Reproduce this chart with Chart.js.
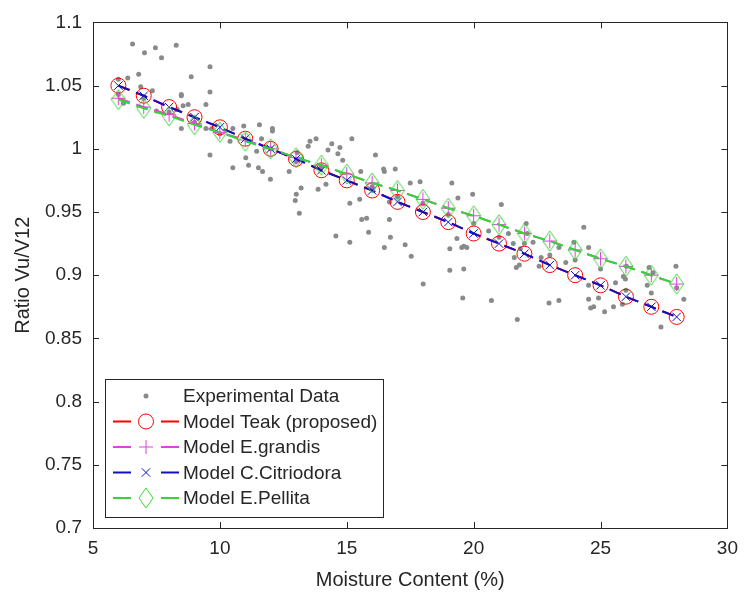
<!DOCTYPE html>
<html>
<head>
<meta charset="utf-8">
<script src="https://cdn.jsdelivr.net/npm/chart.js@4.4.0/dist/chart.umd.min.js"></script>
<style>
  html, body { margin: 0; padding: 0; background: #fff; }
</style>
</head>
<body>
<canvas id="ratioChart" width="747" height="594"></canvas>
<script>
// model curves, evaluated at whole moisture contents
const moisture = [6, 7, 8, 9, 10, 11, 12, 13, 14, 15, 16, 17, 18, 19, 20, 21, 22, 23, 24, 25, 26, 27, 28];
const teak = [1.050, 1.042, 1.033, 1.025, 1.017, 1.008, 1.000, 0.992, 0.983, 0.975, 0.967, 0.958,
              0.950, 0.942, 0.933, 0.925, 0.917, 0.908, 0.900, 0.892, 0.883, 0.875, 0.867];
const grandis = [1.040, 1.033, 1.027, 1.020, 1.013, 1.007, 1.000, 0.993, 0.987, 0.980, 0.973, 0.967,
                 0.960, 0.953, 0.947, 0.940, 0.933, 0.927, 0.920, 0.913, 0.907, 0.900, 0.893];
const citriodora = [1.050, 1.042, 1.033, 1.025, 1.017, 1.008, 1.000, 0.992, 0.983, 0.975, 0.967, 0.958,
                    0.950, 0.942, 0.933, 0.925, 0.917, 0.908, 0.900, 0.892, 0.883, 0.875, 0.867];
const pellita = [1.039, 1.032, 1.026, 1.019, 1.013, 1.006, 1.000, 0.993, 0.987, 0.980, 0.973, 0.967,
                 0.960, 0.953, 0.947, 0.940, 0.933, 0.927, 0.920, 0.913, 0.907, 0.900, 0.893];

// experimental points
const expMoisture = [6.56, 7.03, 7.46, 7.70, 8.28, 6.37, 6.80, 6.88, 7.34, 8.87, 9.61, 8.48, 8.48, 9.61, 8.75,
  9.45, 8.32, 8.55, 8.48, 9.45, 9.69, 9.61, 10.51, 10.51, 10.94, 11.56, 12.07, 12.07, 11.02, 11.13,
  11.45, 11.64, 11.52, 11.68, 11.99, 12.73, 13.05, 13.20, 13.01, 12.97, 13.13, 13.55, 13.79, 13.48, 14.26,
  14.41, 13.87, 14.18, 15.20, 14.73, 14.65, 14.84, 16.13, 16.45, 16.48, 16.91, 15.55, 17.50, 17.89, 19.14,
  15.12, 15.51, 16.68, 15.59, 15.78, 16.68, 15.86, 14.57, 15.12, 16.72, 16.48, 17.30, 17.54, 18.01, 19.38,
  19.96, 21.09, 22.07, 19.34, 19.53, 19.61, 19.73, 19.06, 19.06, 19.61, 19.57, 20.70, 21.72, 22.97, 23.36,
  22.58, 22.66, 23.36, 21.84, 21.68, 22.34, 22.11, 20.59, 21.37, 21.56, 21.60, 21.80, 24.34, 23.63, 24.53,
  24.53, 24.61, 24.73, 25.16, 24.92, 25.51, 25.86, 25.59, 25.98, 26.84, 27.38, 27.97, 28.28, 23.95, 26.91,
  26.02, 25.90, 27.07, 24.53, 6.0, 6.0, 6.2, 7.0, 7.5, 8.0, 9.0, 10.0, 10.4, 12.0, 13.0, 14.0, 16.0, 18.0,
  20.0, 21.0, 23.0, 25.0, 27.0, 28.0, 17.0, 19.0, 22.0, 24.0, 26.0];
const expRatio = [1.083, 1.076, 1.080, 1.072, 1.082, 1.056, 1.059, 1.049, 1.046, 1.057, 1.065, 1.043, 1.042, 1.045, 1.035,
  1.035, 1.031, 1.034, 1.016, 1.016, 1.016, 0.995, 0.985, 1.016, 1.018, 1.019, 1.016, 1.014, 0.993, 0.987,
  0.998, 1.008, 0.985, 0.982, 0.976, 0.982, 0.997, 0.969, 0.964, 0.959, 0.949, 1.006, 1.008, 1.002, 0.999,
  1.004, 0.968, 0.972, 1.008, 1.001, 0.996, 0.991, 0.995, 0.984, 0.982, 0.984, 0.982, 0.973, 0.974, 0.973,
  0.957, 0.960, 0.958, 0.944, 0.945, 0.944, 0.934, 0.931, 0.926, 0.930, 0.922, 0.924, 0.915, 0.893, 0.961,
  0.964, 0.956, 0.941, 0.929, 0.922, 0.923, 0.922, 0.921, 0.904, 0.905, 0.882, 0.880, 0.865, 0.878, 0.880,
  0.907, 0.914, 0.922, 0.921, 0.906, 0.926, 0.933, 0.935, 0.933, 0.925, 0.914, 0.908, 0.938, 0.910, 0.892,
  0.881, 0.874, 0.875, 0.871, 0.882, 0.875, 0.877, 0.894, 0.897, 0.892, 0.859, 0.907, 0.881, 0.926, 0.906,
  0.907, 0.899, 0.902, 0.922, 1.055, 1.043, 1.036, 1.040, 1.030, 1.029, 1.021, 1.012, 1.006, 1.000, 0.990, 0.986, 0.970, 0.957,
  0.941, 0.930, 0.916, 0.905, 0.886, 0.890, 0.962, 0.948, 0.925, 0.912, 0.888];

const xTicks = [5, 10, 15, 20, 25, 30];
const yTicks = [0.7, 0.75, 0.8, 0.85, 0.9, 0.95, 1, 1.05, 1.1];
const yTickLabels = ['0.7', '0.75', '0.8', '0.85', '0.9', '0.95', '1', '1.05', '1.1'];

const FONT = '"Liberation Sans", Arial, sans-serif';
const INK = '#262626';

// tall green diamond marker
function diamond(w, h, color) {
  const c = document.createElement('canvas');
  c.width = w + 2; c.height = h + 2;
  const g = c.getContext('2d');
  g.strokeStyle = color;
  g.lineWidth = 1;
  g.beginPath();
  g.moveTo(c.width / 2, 1);
  g.lineTo(c.width - 1, c.height / 2);
  g.lineTo(c.width / 2, c.height - 1);
  g.lineTo(1, c.height / 2);
  g.closePath();
  g.stroke();
  return c;
}
const greenDiamond = diamond(14, 20, '#3ad63a');

const pts = (xs, ys) => xs.map((x, i) => ({ x: x, y: ys[i] }));

function modelSet(label, ys, color, style, radius, order) {
  return {
    label: label,
    data: pts(moisture, ys),
    showLine: true,
    borderColor: color,
    backgroundColor: 'transparent',
    borderWidth: 2,
    borderDash: [12, 7],
    pointStyle: style,
    pointRadius: radius,
    pointBorderColor: color,
    pointBorderWidth: 1,
    pointBackgroundColor: 'transparent',
    order: order
  };
}

const datasets = [
  {
    label: 'Experimental Data',
    data: pts(expMoisture, expRatio),
    showLine: false,
    pointStyle: 'circle',
    pointRadius: 2.5,
    pointBorderWidth: 0,
    pointBackgroundColor: '#8a8a8a',
    backgroundColor: '#8a8a8a',
    order: 5
  },
  modelSet('Model Teak (proposed)', teak, '#ff0000', 'circle', 7.5, 4),
  modelSet('Model E.grandis', grandis, '#dd44dd', 'cross', 7, 3),
  modelSet('Model C.Citriodora', citriodora, '#1010c0', 'crossRot', 6, 2),
  modelSet('Model E.Pellita', pellita, '#33d633', greenDiamond, 8, 1)
];

function marker(ctx, ds, x, y) {
  ctx.save();
  ctx.setLineDash([]);
  ctx.strokeStyle = ds.pointBorderColor || ds.pointBackgroundColor;
  ctx.fillStyle = ds.pointBackgroundColor;
  ctx.lineWidth = 1;
  const r = ds.pointRadius;
  const s = ds.pointStyle;
  ctx.beginPath();
  if (s instanceof HTMLCanvasElement) {
    ctx.drawImage(s, x - s.width / 2, y - s.height / 2);
  } else if (s === 'circle' && ds.showLine === false) {
    ctx.arc(x, y, r, 0, Math.PI * 2);
    ctx.fill();
  } else if (s === 'circle') {
    ctx.arc(x, y, r, 0, Math.PI * 2);
    ctx.stroke();
  } else if (s === 'cross') {
    ctx.moveTo(x - r, y); ctx.lineTo(x + r, y);
    ctx.moveTo(x, y - r); ctx.lineTo(x, y + r);
    ctx.stroke();
  } else if (s === 'crossRot') {
    const d = r * Math.SQRT1_2;
    ctx.moveTo(x - d, y - d); ctx.lineTo(x + d, y + d);
    ctx.moveTo(x - d, y + d); ctx.lineTo(x + d, y - d);
    ctx.stroke();
  }
  ctx.restore();
}

// MATLAB style box, inward ticks and inset legend
const matlabFrame = {
  id: 'matlabFrame',
  afterDraw(chart) {
    const ctx = chart.ctx;
    const a = chart.chartArea;
    const sx = chart.scales.x, sy = chart.scales.y;
    ctx.save();
    ctx.strokeStyle = INK;
    ctx.lineWidth = 1;
    ctx.strokeRect(Math.round(a.left) + 0.5, Math.round(a.top) + 0.5,
      Math.round(a.right - a.left), Math.round(a.bottom - a.top));
    ctx.beginPath();
    const tl = 6;
    xTicks.forEach(v => {
      const px = Math.round(sx.getPixelForValue(v)) + 0.5;
      ctx.moveTo(px, a.bottom); ctx.lineTo(px, a.bottom - tl);
      ctx.moveTo(px, a.top); ctx.lineTo(px, a.top + tl);
    });
    yTicks.forEach(v => {
      const py = Math.round(sy.getPixelForValue(v)) + 0.5;
      ctx.moveTo(a.left, py); ctx.lineTo(a.left + tl, py);
      ctx.moveTo(a.right, py); ctx.lineTo(a.right - tl, py);
    });
    ctx.stroke();

    // legend
    const sets = chart.data.datasets;
    const left = a.left + 12, top = 379, rowH = 25.5;
    const textX = left + 78;
    ctx.font = '19px ' + FONT;
    let maxW = 0;
    sets.forEach(ds => { maxW = Math.max(maxW, ctx.measureText(ds.label).width); });
    const boxW = textX + maxW + 6 - left;
    const boxH = rowH * sets.length + 10;
    ctx.fillStyle = '#fff';
    ctx.fillRect(left, top, boxW, boxH);
    ctx.strokeStyle = INK;
    ctx.strokeRect(Math.round(left) + 0.5, top + 0.5, Math.round(boxW), Math.round(boxH));
    ctx.textBaseline = 'middle';
    ctx.textAlign = 'left';
    sets.forEach((ds, i) => {
      const cy = top + 17 + i * rowH;
      const mx = left + 41;
      if (ds.showLine) {
        ctx.save();
        ctx.strokeStyle = ds.borderColor;
        ctx.lineWidth = 2;
        ctx.beginPath();
        ctx.moveTo(left + 8, cy); ctx.lineTo(left + 26, cy);
        ctx.moveTo(left + 56, cy); ctx.lineTo(left + 74, cy);
        ctx.stroke();
        ctx.restore();
      }
      marker(ctx, ds, mx, cy);
      ctx.fillStyle = INK;
      ctx.fillText(ds.label, textX, cy + 1);
    });
    ctx.restore();
  }
};

new Chart(document.getElementById('ratioChart').getContext('2d'), {
  type: 'scatter',
  data: { datasets: datasets },
  options: {
    responsive: false,
    animation: false,
    layout: { padding: { top: 21, right: 14, left: 0, bottom: 0 } },
    plugins: {
      legend: { display: false },
      tooltip: { enabled: false }
    },
    scales: {
      x: {
        type: 'linear',
        min: 5,
        max: 30,
        afterBuildTicks: scale => { scale.ticks = xTicks.map(v => ({ value: v })); },
        afterFit: scale => { scale.height = 66; },
        grid: { display: false, drawTicks: false },
        border: { display: false },
        ticks: {
          color: INK,
          font: { family: FONT, size: 19 },
          padding: 9,
          maxRotation: 0,
          callback: value => String(value)
        },
        title: {
          display: true,
          text: 'Moisture Content (%)',
          color: INK,
          font: { family: FONT, size: 20 },
          padding: { top: 0, bottom: 2 }
        }
      },
      y: {
        type: 'linear',
        min: 0.7,
        max: 1.1,
        afterBuildTicks: scale => { scale.ticks = yTicks.map(v => ({ value: v })); },
        afterFit: scale => { scale.width = 93; },
        grid: { display: false, drawTicks: false },
        border: { display: false },
        ticks: {
          color: INK,
          font: { family: FONT, size: 19 },
          padding: 11,
          callback: value => yTickLabels[yTicks.indexOf(Math.round(value * 100) / 100)]
        },
        title: {
          display: true,
          text: 'Ratio Vu/V12',
          color: INK,
          font: { family: FONT, size: 20 },
          padding: { top: 11, bottom: 0 }
        }
      }
    }
  },
  plugins: [matlabFrame]
});
</script>
</body>
</html>
